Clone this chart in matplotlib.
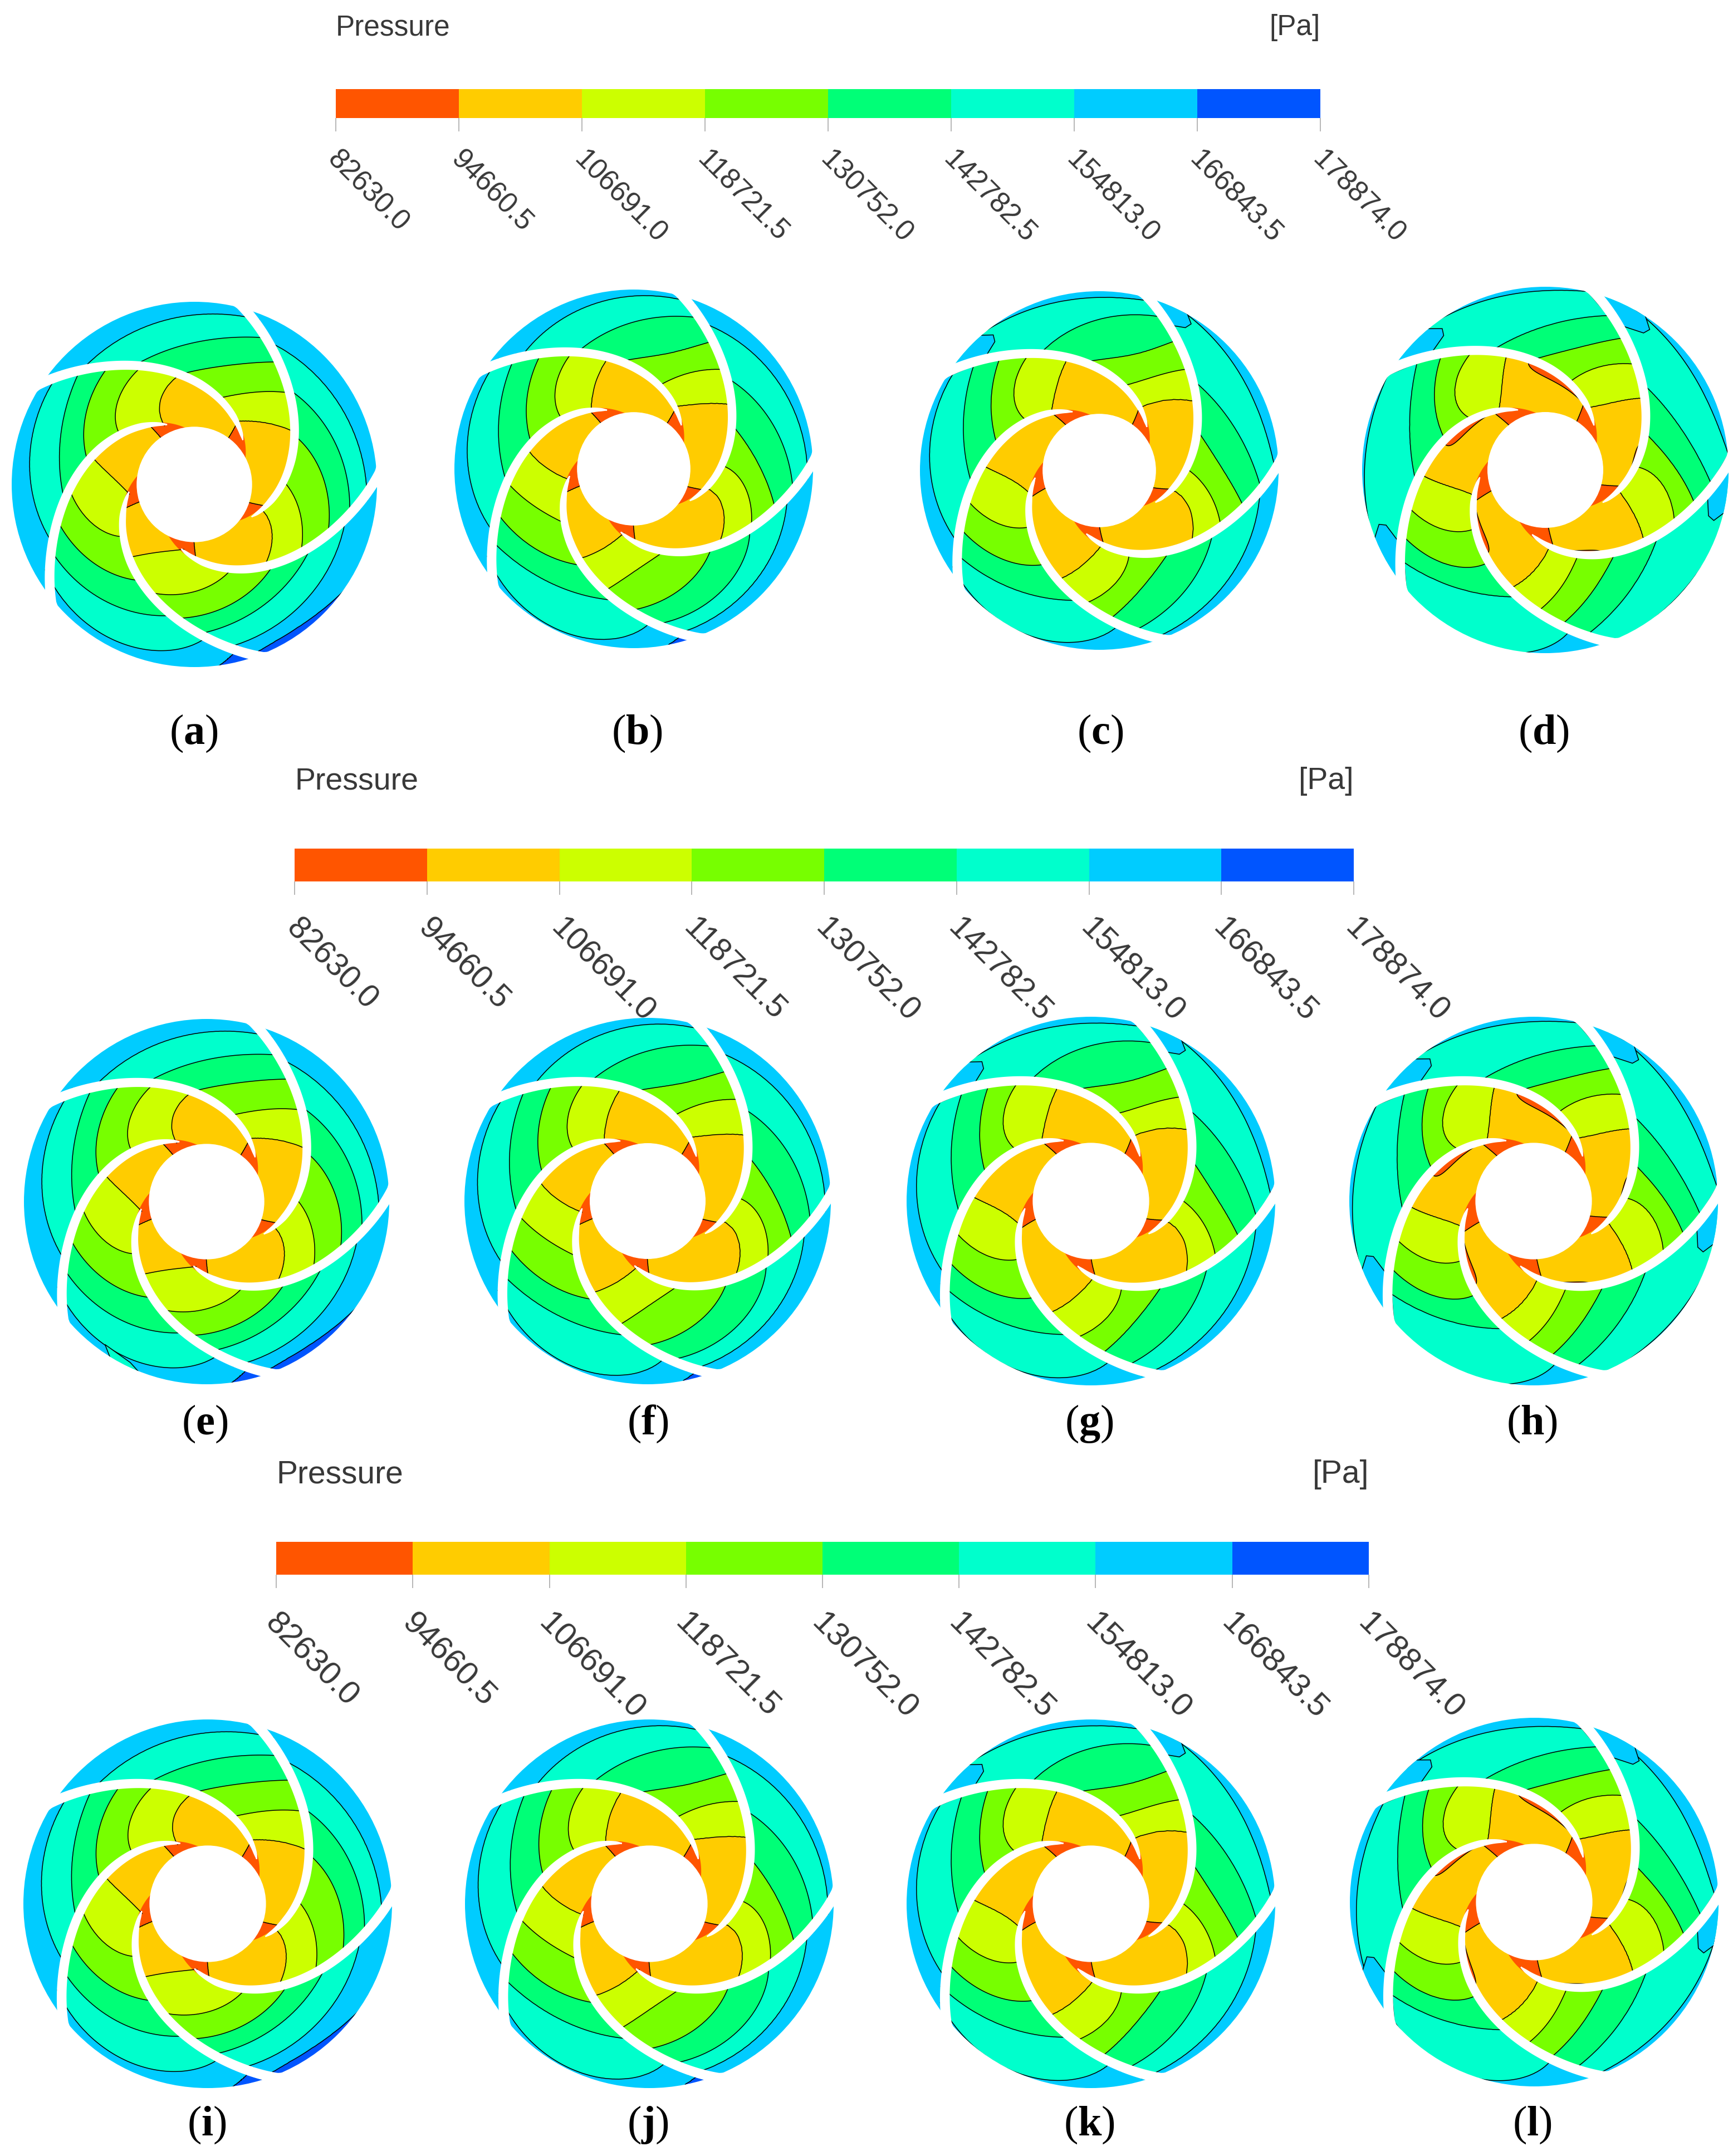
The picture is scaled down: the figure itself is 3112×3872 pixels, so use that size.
#!/usr/bin/env python3
import numpy as np
import matplotlib
matplotlib.use("Agg")
import matplotlib.pyplot as plt
from matplotlib.patches import Circle

W, H = 3112, 3872
plt.rcParams['mathtext.fontset'] = 'custom'
plt.rcParams['mathtext.bf'] = 'Liberation Serif:bold'
plt.rcParams['mathtext.rm'] = 'Liberation Serif'

LEVELS = [82630.0, 94660.5, 106691.0, 118721.5, 130752.0, 142782.5, 154813.0, 166843.5, 178874.0]
TICK_LABELS = ["82630.0", "94660.5", "106691.0", "118721.5", "130752.0", "142782.5", "154813.0", "166843.5", "178874.0"]
BAND_COLORS = ['#ff5500', '#ffcc00', '#ccff00', '#77ff00', '#00ff77', '#00ffcc', '#00ccff', '#0055ff']

# blade centreline, radius as fraction of rotor radius vs angle in degrees
BLADE_RHO = [0.30, 0.36, 0.42, 0.483, 0.54, 0.647, 0.80, 1.02]
BLADE_THETA = [-46, -30, -13, 0, 12, 33, 53.6, 76]
BLADE_WIDTH = [0.0, 0.0, 0.012, 0.03, 0.04, 0.044, 0.048]
BLADE_WIDTH_RHO = [0.30, 0.36, 0.375, 0.43, 0.55, 0.80, 1.02]
HUB_RHO = 0.314

# radius where each contour crosses a passage: passages 0-4, contours
# 106691 to 154813, each at the start, middle and end of the passage
CROSS_A = [
    [[.619, .508, .415], [.723, .59, .49], [.814, .68, .607], [.893, .783, .729], [.963, .91, .878]],
    [[.607, .498, .37], [.708, .61, .49], [.80, .70, .597], [.884, .78, .716], [.957, .907, .84]],
    [[.582, .456, .364], [.684, .59, .482], [.775, .693, .603], [.863, .80, .727], [.945, .95, .84]],
    [[.537, .43, .363], [.64, .58, .506], [.74, .68, .615], [.818, .76, .724], [.91, .878, .848]],
    [[.59, .50, .395], [.692, .59, .489], [.78, .70, .61], [.865, .80, .733], [.945, .905, .88]],
]
CROSS_B = [
    [[.653, .519, .416], [.75, .605, .485], [.838, .675, .604], [.918, .813, .722], [.98, .943, .884]],
    [[.638, .513, .405], [.736, .617, .486], [.825, .70, .588], [.907, .795, .712], [.97, .93, .858]],
    [[.606, .48, .37], [.71, .585, .49], [.80, .70, .61], [.885, .79, .74], [.958, .983, .858]],
    [[.59, .47, .368], [.70, .57, .49], [.79, .71, .615], [.876, .83, .728], [.95, .92, .87]],
    [[.635, .54, .418], [.733, .62, .49], [.82, .69, .60], [.896, .81, .726], [.968, .938, .90]],
]
CROSS_C = [
    [[.665, .533, .418], [.757, .60, .49], [.847, .677, .61], [.926, .83, .729], [.986, .97, 1.06]],
    [[.654, .523, .42], [.76, .636, .487], [.843, .703, .587], [.921, .798, .713], [.978, .946, .885]],
    [[.654, .504, .407], [.756, .626, .495], [.84, .723, .60], [.92, .811, .732], [.983, .99, .866]],
    [[.653, .523, .414], [.749, .62, .489], [.834, .689, .595], [.915, .815, .72], [.983, .94, .903]],
    [[.655, .544, .418], [.747, .61, .486], [.833, .68, .59], [.908, .793, .725], [.98, .95, 1.05]],
]
CROSS_D = [
    [[.67, .522, .412], [.762, .62, .493], [.844, .69, .604], [.919, .79, .712], [.981, .955, 1.05]],
    [[.671, .522, .413], [.762, .645, .486], [.85, .703, .572], [.922, .786, .708], [.982, .962, 1.03]],
    [[.683, .527, .412], [.776, .638, .498], [.858, .733, .59], [.931, .80, .708], [.992, 1.0, .857]],
    [[.678, .54, .418], [.775, .62, .495], [.852, .70, .59], [.931, .80, .71], [.994, .977, 1.03]],
    [[.669, .529, .415], [.764, .633, .49], [.842, .69, .58], [.916, .78, .709], [.985, .935, 1.03]],
]
COLUMN_CROSS = [CROSS_A, CROSS_B, CROSS_C, CROSS_D]

# lowest contour (94660.5) per column, highest contour (166843.5) per column and passage
LOW_CROSS = [[.41, .27, .16], [.41, .27, .16], [.42, .27, .16], [.43, .28, .16]]
HIGH_DEFAULT = [1.2, 1.2, 1.2]
HIGH_CROSS = [
    {2: [1.2, 1.10, .935], 3: [.985, 1.01, 1.3]},
    {2: [1.2, 1.10, .96]},
    {},
    {},
]
# outermost contour (154813) moved outwards in some panels
RIM_SHIFT = [0, 0, 0, .025, 0, 0, 0, .02, 0, 0, 0, 0]

# passages that have a 154813 lake against the blade: passage, radius on blade, reach
LAKES = [
    [],
    [],
    [(0, .89, .78), (4, .895, .80)],
    [(0, .885, .76), (1, .885, .76), (3, .89, .77), (4, .885, .75)],
]
# low pressure pockets along blades: passage, start radius, end radius, width
POCKETS = [(1, .42, .60, .14), (2, .43, .57, .14), (3, .43, .56, .11), (4, .45, .55, .06), (0, .46, .54, .06)]
# aqua reaching the rim in panel e: passage, radii, passage fractions
NOTCH = {4: (2, [1.05, .96, .975, 1.05], [.26, .28, .40, .42])}

PANEL_NAMES = list("abcdefghijkl")
PANEL_X = [349, 1138, 1974, 2775, 371, 1163, 1959, 2754, 373, 1166, 1959, 2755]
PANEL_Y = [870, 842, 845, 844, 2158, 2157, 2157, 2157, 3419, 3419, 3419, 3416]
PANEL_R = [328, 322, 322, 329, 328, 329, 331, 331, 331, 331, 331, 331]
POCKET_SCALE = [0, 0, 0, 1.0, 0, 0, 0, 0.95, 0, 0, 0, 0.75]
LABEL_X = [348, 1144, 1976, 2772, 368, 1163, 1956, 2751, 371, 1163, 1956, 2751]
LABEL_Y = [1317, 1317, 1317, 1317, 2557, 2557, 2557, 2557, 3816, 3816, 3816, 3816]

BAR_X0 = [603, 529, 496]
BAR_X1 = [2371, 2431, 2458]
BAR_TOP = [160, 1524, 2769]
BAR_BOTTOM = [212, 1583, 2828]
BAR_TITLE_Y = [50, 1403, 2648]
BAR_FONT = [36.5, 41, 42]
TITLE_FONT = [37, 40, 41]
LABEL_DX = [-5, -5, -8]
LABEL_DY = [-48, -55, -57]


def blade_angle(rho):
    return np.polyval(blade_fit, rho)


def to_xy(rho, theta):
    t = np.radians(theta)
    return rho * np.cos(t), rho * np.sin(t)


def passage_mesh(k):
    rho = np.linspace(0.30, 1.04, 260)
    phi = np.linspace(-0.04, 1.04, 90)
    rr, pp = np.meshgrid(rho, phi, indexing='ij')
    x, y = to_xy(rr, blade_angle(rr) + 72.0 * (k + pp))
    return rho, phi, x, y


def passage_field(rho, phi, low, rows, high, rim_shift):
    stations = [0.0, 0.5, 1.0]
    table = [low] + rows + [high]
    cross = np.array([np.polyval(np.polyfit(stations, row, 2), phi) for row in table])
    cross[5] += rim_shift
    cross = np.maximum.accumulate(cross + np.arange(7)[:, None] * 1e-4, axis=0)
    field = np.zeros((len(rho), len(phi)))
    vals = [83000.0] + LEVELS[1:8] + [178000.0]
    for j in range(len(phi)):
        field[:, j] = np.interp(rho, np.r_[0.0, cross[:, j], 1.6], vals)
    return field


def draw_region(ax, clip, rho, phi, k, color):
    x, y = to_xy(np.array(rho), blade_angle(np.array(rho)) + 72.0 * (k + np.array(phi)))
    art = ax.fill(x, y, facecolor=color, edgecolor='black', linewidth=1.1, zorder=3)[0]
    art.set_clip_path(clip)


def draw_blade(ax, k):
    rho = np.linspace(0.36, 1.04, 120)
    x, y = to_xy(rho, blade_angle(rho) + 72.0 * k)
    dx, dy = np.gradient(x), np.gradient(y)
    n = np.hypot(dx, dy)
    half = np.interp(rho, BLADE_WIDTH_RHO, BLADE_WIDTH) / 2
    xs = np.r_[x + half * dy / n, (x - half * dy / n)[::-1]]
    ys = np.r_[y - half * dx / n, (y + half * dx / n)[::-1]]
    ax.fill(xs, ys, color='white', linewidth=1.5, zorder=5)
    # rim is cut back just behind the blade end
    nx, ny = to_xy(np.array([.97, 1.05, 1.05]),
                   blade_angle(np.array([.97, 1.05, 1.05])) + 72.0 * (k + np.array([0, 0, .07])))
    ax.fill(nx, ny, color='white', zorder=5)


def draw_panel(fig, idx):
    col = idx % 4
    cx, cy, r = PANEL_X[idx], PANEL_Y[idx], PANEL_R[idx]
    span = 1.06 * r
    ax = fig.add_axes([(cx - span) / W, 1 - (cy + span) / H, 2 * span / W, 2 * span / H])
    ax.set_xlim(-1.06, 1.06)
    ax.set_ylim(-1.06, 1.06)
    ax.axis('off')
    clip = Circle((0, 0), 1.0, transform=ax.transData)

    for k in range(5):
        rho, phi, x, y = passage_mesh(k)
        high = HIGH_CROSS[col].get(k, HIGH_DEFAULT)
        field = passage_field(rho, phi, LOW_CROSS[col], COLUMN_CROSS[col][k], high, RIM_SHIFT[idx])
        fill = ax.contourf(x, y, field, levels=LEVELS, colors=BAND_COLORS, zorder=1, antialiased=True)
        fill.set_clip_path(clip)
        line = ax.contour(x, y, field, levels=LEVELS[1:8], colors='black', linewidths=1.1, zorder=2)
        line.set_clip_path(clip)

    for k, rho0, reach in LAKES[col]:
        draw_region(ax, clip, [rho0, rho0 + .035, rho0 + .07, 1.05, 1.05],
                    [1.02, reach + .08, reach + .02, reach - .01, 1.02], k, BAND_COLORS[6])
    for k in range(5):
        draw_region(ax, clip, [.975, 1.05, 1.05], [1.02, .95, 1.02], k, BAND_COLORS[7])
    if idx in NOTCH:
        k, nr, np_ = NOTCH[idx]
        draw_region(ax, clip, nr, np_, k, BAND_COLORS[5])

    if POCKET_SCALE[idx] > 0:
        for k, r0, r1, wid in POCKETS:
            t = np.linspace(0, 1, 30)
            rr = r0 + (r1 - r0) * t
            pp = 0.03 + POCKET_SCALE[idx] * wid * np.sin(np.pi * t) ** 0.8
            draw_region(ax, clip, np.r_[rr, rr[::-1]], np.r_[pp, np.full(30, -.01)], k, BAND_COLORS[0])

    for k in range(5):
        draw_blade(ax, k)
    ax.add_patch(Circle((0, 0), HUB_RHO, color='white', zorder=6))


def draw_bar(fig, row):
    x0, x1, top, bottom = BAR_X0[row], BAR_X1[row], BAR_TOP[row], BAR_BOTTOM[row]
    ax = fig.add_axes([x0 / W, 1 - bottom / H, (x1 - x0) / W, (bottom - top) / H])
    for lo, hi, c in zip(LEVELS[:-1], LEVELS[1:], BAND_COLORS):
        ax.axvspan(lo, hi, color=c, linewidth=0)
    ax.set_xlim(LEVELS[0], LEVELS[-1])
    ax.set_yticks([])
    for s in ax.spines.values():
        s.set_visible(False)
    ax.set_xticks(LEVELS)
    ax.set_xticklabels([])
    ax.tick_params(axis='x', length=17, width=1.2, color='#aaaaaa')
    for lev, lab in zip(LEVELS, TICK_LABELS):
        ax.annotate(lab, xy=(lev, 0), xycoords=('data', 'axes fraction'),
                    xytext=(LABEL_DX[row], LABEL_DY[row]), textcoords='offset points',
                    rotation=-45, ha='left', va='center', rotation_mode='anchor',
                    fontsize=BAR_FONT[row], family='Liberation Sans', color='#383838',
                    annotation_clip=False)
    fig.text(x0 / W, 1 - BAR_TITLE_Y[row] / H, "Pressure", ha='left', va='center',
             fontsize=TITLE_FONT[row], family='Liberation Sans', color='#383838')
    fig.text(x1 / W, 1 - BAR_TITLE_Y[row] / H, "[Pa]", ha='right', va='center',
             fontsize=TITLE_FONT[row], family='Liberation Sans', color='#383838')


blade_fit = np.polyfit(BLADE_RHO, BLADE_THETA, 4)

fig = plt.figure(figsize=(W / 100, H / 100), dpi=100)
for row in range(3):
    draw_bar(fig, row)
for i in range(12):
    draw_panel(fig, i)
    fig.text(LABEL_X[i] / W, 1 - LABEL_Y[i] / H, "(" + r"$\mathbf{" + PANEL_NAMES[i] + "}$" + ")",
             ha='center', va='center', fontsize=55, family='Liberation Serif', color='black')

fig.savefig("out.png", dpi=100)
